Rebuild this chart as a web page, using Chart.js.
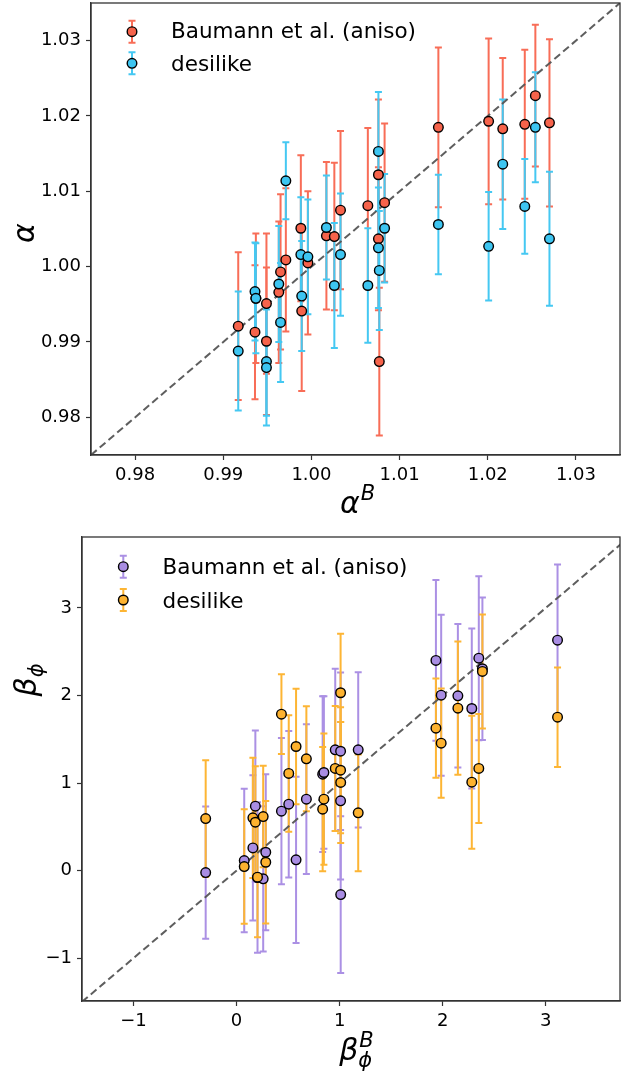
<!DOCTYPE html>
<html>
<head>
<meta charset="utf-8">
<script src="https://cdn.jsdelivr.net/npm/chart.js@4/dist/chart.umd.min.js"></script>
<style>
  html, body { margin: 0; padding: 0; background: #ffffff; }
  #page { position: relative; width: 621px; height: 1077px; overflow: hidden; }
  canvas { position: absolute; left: 0; }
  #c1 { top: 0; }
  #c2 { top: 520px; }
</style>
</head>
<body>
<div id="page">
  <canvas id="c1" width="621" height="520"></canvas>
  <canvas id="c2" width="621" height="557"></canvas>
</div>
<script>
// ---- upper panel: alpha vs alpha^B ----
const alphaB = [0.9917, 0.9936, 0.9937, 0.9949, 0.9949, 0.9963, 0.9965, 0.9971, 0.9988, 0.9989,
                0.9996, 1.0017, 1.0026, 1.0033, 1.0064, 1.0076, 1.0076, 1.0077, 1.0083, 1.0144,
                1.0201, 1.0217, 1.0242, 1.0254, 1.0270];
const alphaBaumann = [0.9921, 0.9913, 0.9958, 0.9951, 0.9901, 0.9966, 0.9993, 1.0009, 1.0051, 0.9941,
                      1.0005, 1.0041, 1.0040, 1.0075, 1.0081, 1.0122, 1.0037, 0.9874, 1.0085, 1.0185,
                      1.0193, 1.0183, 1.0189, 1.0227, 1.0191];
const alphaBaumannErr = [0.0098, 0.0089, 0.0086, 0.0093, 0.0098, 0.0094, 0.0103, 0.0095, 0.0097, 0.0106,
                         0.0095, 0.0098, 0.0098, 0.0105, 0.0103, 0.0100, 0.0095, 0.0098, 0.0105, 0.0106,
                         0.0110, 0.0094, 0.0099, 0.0094, 0.0111];
const alphaDesilike = [0.9888, 0.9967, 0.9958, 0.9874, 0.9866, 0.9977, 0.9926, 1.0114, 1.0016, 0.9961,
                       1.0013, 1.0052, 0.9975, 1.0016, 0.9975, 1.0153, 1.0025, 0.9995, 1.0051, 1.0056,
                       1.0027, 1.0136, 1.0080, 1.0185, 1.0037];
const alphaDesilikeErr = [0.0079, 0.0065, 0.0073, 0.0072, 0.0077, 0.0077, 0.0079, 0.0051, 0.0076, 0.0073,
                          0.0076, 0.0069, 0.0083, 0.0081, 0.0076, 0.0079, 0.0080, 0.0079, 0.0072, 0.0066,
                          0.0072, 0.0086, 0.0063, 0.0073, 0.0089];
const alphaRange = [0.975, 1.035];
const alphaTicks = [0.98, 0.99, 1.00, 1.01, 1.02, 1.03];
const alphaTickLabels = ['0.98', '0.99', '1.00', '1.01', '1.02', '1.03'];

// ---- lower panel: beta_phi vs beta_phi^B ----
const betaB = [-0.300, 0.074, 0.158, 0.182, 0.203, 0.258, 0.283, 0.435, 0.506, 0.577,
               0.677, 0.835, 0.847, 0.957, 1.009, 1.009, 1.010, 1.180, 1.934, 1.985,
               2.147, 2.282, 2.350, 2.385, 3.114];
const betaBaumann = [-0.023, 0.114, 0.259, 0.735, -0.080, -0.095, 0.209, 0.678, 0.758, 0.122,
                     0.815, 1.101, 1.120, 1.379, 1.363, 0.797, -0.274, 1.379, 2.400, 2.003,
                     1.996, 1.851, 2.426, 2.305, 2.632];
const betaBaumannErr = [0.755, 0.820, 0.830, 0.865, 0.860, 0.830, 0.890, 0.835, 0.837, 0.950,
                        0.855, 0.890, 0.870, 0.926, 0.900, 0.900, 0.895, 0.887, 0.918, 0.920,
                        0.820, 0.914, 0.937, 0.813, 0.865];
const betaDesilike = [0.594, 0.046, 0.602, 0.552, -0.076, 0.617, 0.095, 1.786, 1.109, 1.417,
                      1.276, 0.701, 0.815, 1.166, 2.031, 1.146, 1.006, 0.659, 1.626, 1.455,
                      1.855, 1.009, 1.166, 2.274, 1.752];
const betaDesilikeErr = [0.667, 0.655, 0.686, 0.640, 0.686, 0.580, 0.700, 0.455, 0.665, 0.660,
                         0.600, 0.710, 0.750, 0.713, 0.674, 0.720, 0.690, 0.667, 0.567, 0.624,
                         0.762, 0.760, 0.622, 0.651, 0.568];
const betaXRange = [-1.5, 3.72];
const betaYRange = [-1.49, 3.81];
const betaTicks = [-1, 0, 1, 2, 3];
const betaTickLabels = ['\u22121', '0', '1', '2', '3'];

const seriesNames = ['Baumann et al. (aniso)', 'desilike'];

const FONT = '"DejaVu Sans", "Liberation Sans", sans-serif';
const AXIS_COLOR = '#333333';
Chart.defaults.font.family = FONT;
Chart.defaults.color = '#000000';
Chart.defaults.animation = false;

const MARKER_R = 4.8;
const BAR_W = 2;
const CAP = 3.5;

// vertical error bars with caps, drawn beneath the markers
const errorBarPlugin = {
  id: 'errorBars',
  beforeDatasetsDraw(chart) {
    const { ctx } = chart;
    const xs = chart.scales.x, ys = chart.scales.y;
    chart.data.datasets.forEach(ds => {
      if (!ds.errors) return;
      ctx.save();
      ctx.strokeStyle = ds.barColor;
      ctx.lineWidth = BAR_W;
      ds.data.forEach((p, i) => {
        const e = ds.errors[i];
        const px = xs.getPixelForValue(p.x);
        const lo = ys.getPixelForValue(p.y - e);
        const hi = ys.getPixelForValue(p.y + e);
        ctx.beginPath();
        ctx.moveTo(px, lo); ctx.lineTo(px, hi);
        ctx.moveTo(px - CAP, lo); ctx.lineTo(px + CAP, lo);
        ctx.moveTo(px - CAP, hi); ctx.lineTo(px + CAP, hi);
        ctx.stroke();
      });
      ctx.restore();
    });
  }
};

// full axes frame
const framePlugin = {
  id: 'frame',
  afterDatasetsDraw(chart) {
    const { ctx, chartArea: a } = chart;
    ctx.save();
    ctx.strokeStyle = AXIS_COLOR;
    ctx.lineWidth = 1.3;
    ctx.strokeRect(a.left, a.top, a.right - a.left, a.bottom - a.top);
    ctx.restore();
  }
};

// legend entries: marker with its error bar, then the series name
const legendPlugin = {
  id: 'errLegend',
  afterDraw(chart, args, opts) {
    const { ctx } = chart;
    const items = chart.data.datasets.filter(ds => ds.errors)
      .sort((a, b) => seriesNames.indexOf(a.label) - seriesNames.indexOf(b.label));
    items.forEach((ds, k) => {
      const mx = opts.markerX, my = opts.markerY[k];
      ctx.save();
      ctx.strokeStyle = ds.barColor;
      ctx.lineWidth = BAR_W;
      ctx.beginPath();
      ctx.moveTo(mx, my - 11); ctx.lineTo(mx, my + 11);
      ctx.moveTo(mx - CAP, my - 11); ctx.lineTo(mx + CAP, my - 11);
      ctx.moveTo(mx - CAP, my + 11); ctx.lineTo(mx + CAP, my + 11);
      ctx.stroke();
      ctx.beginPath();
      ctx.arc(mx, my, ds.pointRadius, 0, Math.PI * 2);
      ctx.fillStyle = ds.backgroundColor;
      ctx.fill();
      ctx.lineWidth = ds.borderWidth;
      ctx.strokeStyle = ds.borderColor;
      ctx.stroke();
      ctx.fillStyle = '#000000';
      ctx.font = opts.fontSize + 'px ' + FONT;
      ctx.textBaseline = 'alphabetic';
      ctx.textAlign = 'left';
      ctx.fillText(ds.label, opts.textX, opts.baselines[k]);
      ctx.restore();
    });
  }
};

// italic symbol with optional superscript / subscript
function drawMath(ctx, m, cx, baseline) {
  const s = m.size, small = Math.round(s * 0.7);
  ctx.font = 'italic ' + s + 'px ' + FONT;
  const wb = ctx.measureText(m.base).width;
  ctx.font = 'italic ' + small + 'px ' + FONT;
  const wsup = m.sup ? ctx.measureText(m.sup).width : 0;
  const wsub = m.sub ? ctx.measureText(m.sub).width : 0;
  const total = wb + Math.max(wsup, wsub);
  const x0 = cx - total / 2;
  ctx.textAlign = 'left';
  ctx.textBaseline = 'alphabetic';
  ctx.fillStyle = '#000000';
  ctx.font = 'italic ' + s + 'px ' + FONT;
  ctx.fillText(m.base, x0, baseline);
  ctx.font = 'italic ' + small + 'px ' + FONT;
  if (m.sup) ctx.fillText(m.sup, x0 + wb + 1, baseline - s * 0.45);
  if (m.sub) ctx.fillText(m.sub, x0 + wb, baseline + s * 0.22);
}

const axisLabelPlugin = {
  id: 'mathLabels',
  afterDraw(chart, args, opts) {
    const { ctx } = chart;
    ctx.save();
    drawMath(ctx, opts.xLabel, opts.xLabel.cx, opts.xLabel.baseline);
    ctx.restore();
    ctx.save();
    ctx.translate(opts.yLabel.baselineX, opts.yLabel.cy);
    ctx.rotate(-Math.PI / 2);
    drawMath(ctx, opts.yLabel, 0, 0);
    ctx.restore();
  }
};

function points(xs, ys) {
  return xs.map((x, i) => ({ x: x, y: ys[i] }));
}

function axis(range, tickVals, tickLabels, fitKey, fitSize) {
  return {
    type: 'linear',
    min: range[0],
    max: range[1],
    grid: { display: true, drawOnChartArea: false, drawTicks: true, tickLength: 5,
            tickColor: AXIS_COLOR, tickWidth: 1.2 },
    border: { display: true, color: AXIS_COLOR, width: 1.3 },
    ticks: {
      autoSkip: false, maxRotation: 0, padding: 5,
      font: { size: 18, family: FONT }, color: '#000000',
      callback: v => { const i = tickVals.findIndex(t => Math.abs(t - v) < 1e-9); return i >= 0 ? tickLabels[i] : ''; }
    },
    afterBuildTicks: s => { s.ticks = tickVals.map(v => ({ value: v })); },
    afterFit: s => {
      s[fitKey] = fitSize;
      // the plot frame is placed by the layout padding alone
      s.paddingTop = 0; s.paddingBottom = 0; s.paddingLeft = 0; s.paddingRight = 0;
    }
  };
}

function makePanel(cfg) {
  const lo = Math.min(cfg.xRange[0], cfg.yRange[0]);
  const hi = Math.max(cfg.xRange[1], cfg.yRange[1]);
  return new Chart(document.getElementById(cfg.canvas), {
    type: 'scatter',
    data: {
      datasets: [
        {
          label: seriesNames[1], data: points(cfg.xs, cfg.series[1]), errors: cfg.errs[1],
          backgroundColor: cfg.colors[1], barColor: cfg.barColors[1],
          borderColor: '#000000', borderWidth: 1.4, pointRadius: MARKER_R, order: 1
        },
        {
          label: seriesNames[0], data: points(cfg.xs, cfg.series[0]), errors: cfg.errs[0],
          backgroundColor: cfg.colors[0], barColor: cfg.barColors[0],
          borderColor: '#000000', borderWidth: 1.4, pointRadius: MARKER_R, order: 2
        },
        {
          label: 'y = x', data: [{ x: lo, y: lo }, { x: hi, y: hi }],
          showLine: true, pointRadius: 0, borderColor: 'rgba(85,85,85,0.95)',
          borderWidth: 2, borderDash: [7.5, 4], order: 3
        }
      ].reverse()   // bars are drawn in array order: Baumann first, desilike over it
    },
    options: {
      responsive: false,
      devicePixelRatio: 1,
      animation: false,
      events: [],
      layout: { autoPadding: false, padding: { top: cfg.padTop, right: 1, left: 0, bottom: 0 } },
      scales: {
        x: axis(cfg.xRange, cfg.ticks, cfg.tickLabels, 'height', cfg.xAxisHeight),
        y: axis(cfg.yRange, cfg.ticks, cfg.tickLabels, 'width', cfg.yAxisWidth)
      },
      plugins: {
        legend: { display: false },
        tooltip: { enabled: false },
        errLegend: cfg.legend,
        mathLabels: cfg.labels
      }
    },
    plugins: [errorBarPlugin, framePlugin, legendPlugin, axisLabelPlugin]
  });
}

makePanel({
  canvas: 'c1',
  xs: alphaB,
  series: [alphaBaumann, alphaDesilike],
  errs: [alphaBaumannErr, alphaDesilikeErr],
  colors: ['#F6634B', '#3DC5F1'],
  barColors: ['#F86D57', '#45C8F2'],
  xRange: alphaRange, yRange: alphaRange,
  ticks: alphaTicks, tickLabels: alphaTickLabels,
  padTop: 3, xAxisHeight: 65, yAxisWidth: 91,
  legend: { markerX: 132, markerY: [31.7, 63.3], textX: 171, baselines: [38.3, 70.7], fontSize: 21.5 },
  labels: {
    xLabel: { base: '\u03B1', sup: 'B', size: 30, cx: 357, baseline: 513 },
    yLabel: { base: '\u03B1', size: 30, cy: 233, baselineX: 34 }
  }
});

makePanel({
  canvas: 'c2',
  xs: betaB,
  series: [betaBaumann, betaDesilike],
  errs: [betaBaumannErr, betaDesilikeErr],
  colors: ['#A98DE3', '#FDB22F'],
  barColors: ['#AB90E4', '#FDB534'],
  xRange: betaXRange, yRange: betaYRange,
  ticks: betaTicks, tickLabels: betaTickLabels,
  padTop: 17, xAxisHeight: 76, yAxisWidth: 82,
  legend: { markerX: 123.3, markerY: [46.7, 80], textX: 162.5, baselines: [54.3, 87.7], fontSize: 21.5 },
  labels: {
    xLabel: { base: '\u03B2', sup: 'B', sub: '\u03D5', size: 30, cx: 356, baseline: 540 },
    yLabel: { base: '\u03B2', sub: '\u03D5', size: 30, cy: 160, baselineX: 36 }
  }
});
</script>
</body>
</html>
